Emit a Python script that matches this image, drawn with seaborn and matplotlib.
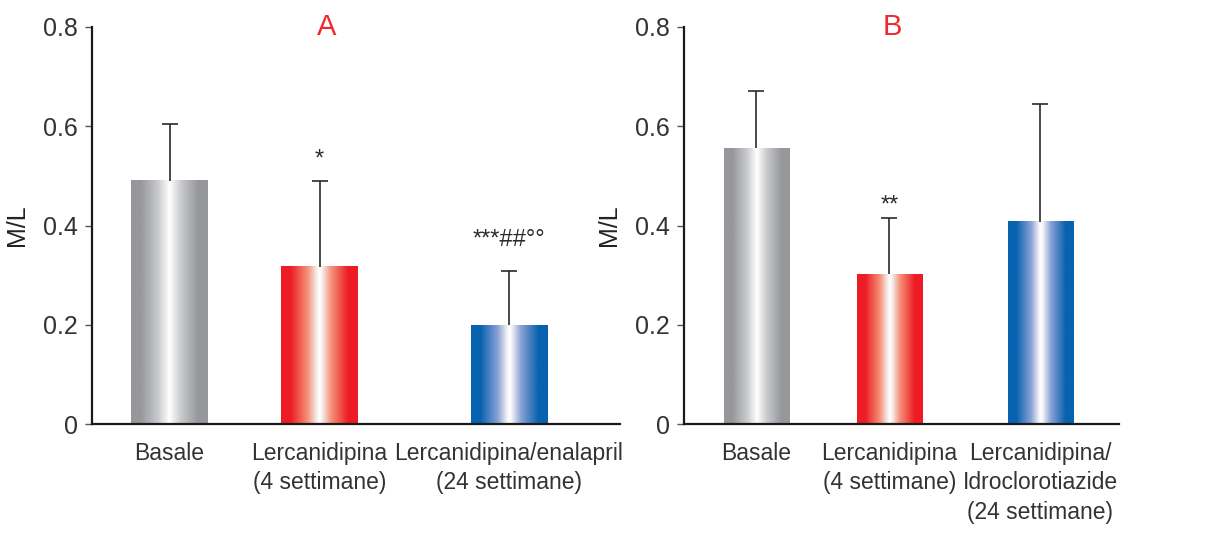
import numpy as np
import pandas as pd
import matplotlib
matplotlib.use("Agg")
import matplotlib.pyplot as plt
import seaborn as sns
from matplotlib.colors import LinearSegmentedColormap
from matplotlib.ticker import FuncFormatter

# -------------------------------
# Data
# -------------------------------
labels_a = ["Basale", "Lercanidipina\n(4 settimane)", "Lercanidipina/enalapril\n(24 settimane)"]
pos_a = [0.0, 1.0, 2.263]
means_a = [0.490, 0.317, 0.199]
sd_a = [0.115, 0.172, 0.109]
marks_a = ["", "*", "***##°°"]

labels_b = ["Basale", "Lercanidipina\n(4 settimane)", "Lercanidipina/\nIdroclorotiazide\n(24 settimane)"]
pos_b = [0.0, 1.0, 2.135]
means_b = [0.556, 0.302, 0.408]
sd_b = [0.116, 0.113, 0.236]
marks_b = ["", "**", ""]

bar_edge = ["#96979b", "#ed1c24", "#0862b0"]
bar_mid = ["#c9cacd", "#f4937a", "#8aa2d6"]

sns.set_style("white")
plt.rcParams["font.family"] = ["Liberation Sans", "DejaVu Sans"]

fig = plt.figure(figsize=(12.11, 5.40), dpi=100)
ax_a = fig.add_axes([92 / 1211, 1 - 424 / 540, (620 - 92) / 1211, 397 / 540])
ax_b = fig.add_axes([684 / 1211, 1 - 424 / 540, (1119 - 684) / 1211, 397 / 540])


def gradient_bars(ax):
    # replace the flat seaborn bars by a horizontal metallic gradient
    for i, p in enumerate(ax.patches):
        x0, y0 = p.get_x(), p.get_y()
        w, h = p.get_width(), p.get_height()
        d = np.abs(np.linspace(-1, 1, 256))
        cmap = LinearSegmentedColormap.from_list(
            "g", [(0, "white"), (0.05, "#f6f6f6"), (0.3, bar_mid[i]), (0.75, bar_edge[i]), (1, bar_edge[i])])
        img = cmap(d)[np.newaxis, :, :]
        ax.imshow(img, extent=[x0, x0 + w, y0, y0 + h], aspect="auto", zorder=2, interpolation="bilinear")
        p.set_visible(False)


def panel(ax, labels, pos, means, sd, marks, mark_gap, title, title_x, xlim, width):
    df = pd.DataFrame({"pos": pos, "val": means})
    sns.barplot(data=df, x="pos", y="val", native_scale=True, width=width, color="gray", ax=ax, errorbar=None)
    gradient_bars(ax)
    _, caps, _ = ax.errorbar(pos, means, yerr=[np.zeros(len(sd)), sd], fmt="none", ecolor="#2b2b2b",
                             elinewidth=1.2, capsize=5.5, capthick=1.2, zorder=3)
    caps[0].set_visible(False)
    for x, m, s, mk, g in zip(pos, means, sd, marks, mark_gap):
        if mk:
            ax.text(x, m + s + g, mk, ha="center", va="bottom", fontsize=17, color="#2b2b2b")
    ax.set_xlim(*xlim)
    ax.set_ylim(0, 0.8)
    ax.set_yticks([0, 0.2, 0.4, 0.6, 0.8])
    ax.yaxis.set_major_formatter(FuncFormatter(lambda v, _: "0" if v == 0 else f"{v:.1f}"))
    ax.set_xticks(pos)
    ax.set_xticklabels(labels, fontsize=16.5, color="#333333", linespacing=1.35)
    ax.tick_params(axis="x", length=0, pad=13)
    ax.tick_params(axis="y", length=5, width=1, color="#555555", labelsize=18, labelcolor="#333333", pad=5,
                   left=True)
    ax.set_xlabel("")
    ax.set_ylabel("M/L", fontsize=18, color="#222222", labelpad=10)
    for s in ["top", "right"]:
        ax.spines[s].set_visible(False)
    for s in ["left", "bottom"]:
        ax.spines[s].set_color("#1a1a1a")
        ax.spines[s].set_linewidth(1.6)
    ax.text(title_x, 0.8, title, ha="center", va="center", fontsize=21, color="#ee2a2e")


panel(ax_a, labels_a, pos_a, means_a, sd_a, marks_a, [0, 0.022, 0.04], "A", 1.05, (-0.517, 3.003), 0.513)
panel(ax_b, labels_b, pos_b, means_b, sd_b, marks_b, [0, 0.004, 0], "B", 1.02, (-0.545, 2.726), 0.489)

fig.savefig("out.png", dpi=100)
